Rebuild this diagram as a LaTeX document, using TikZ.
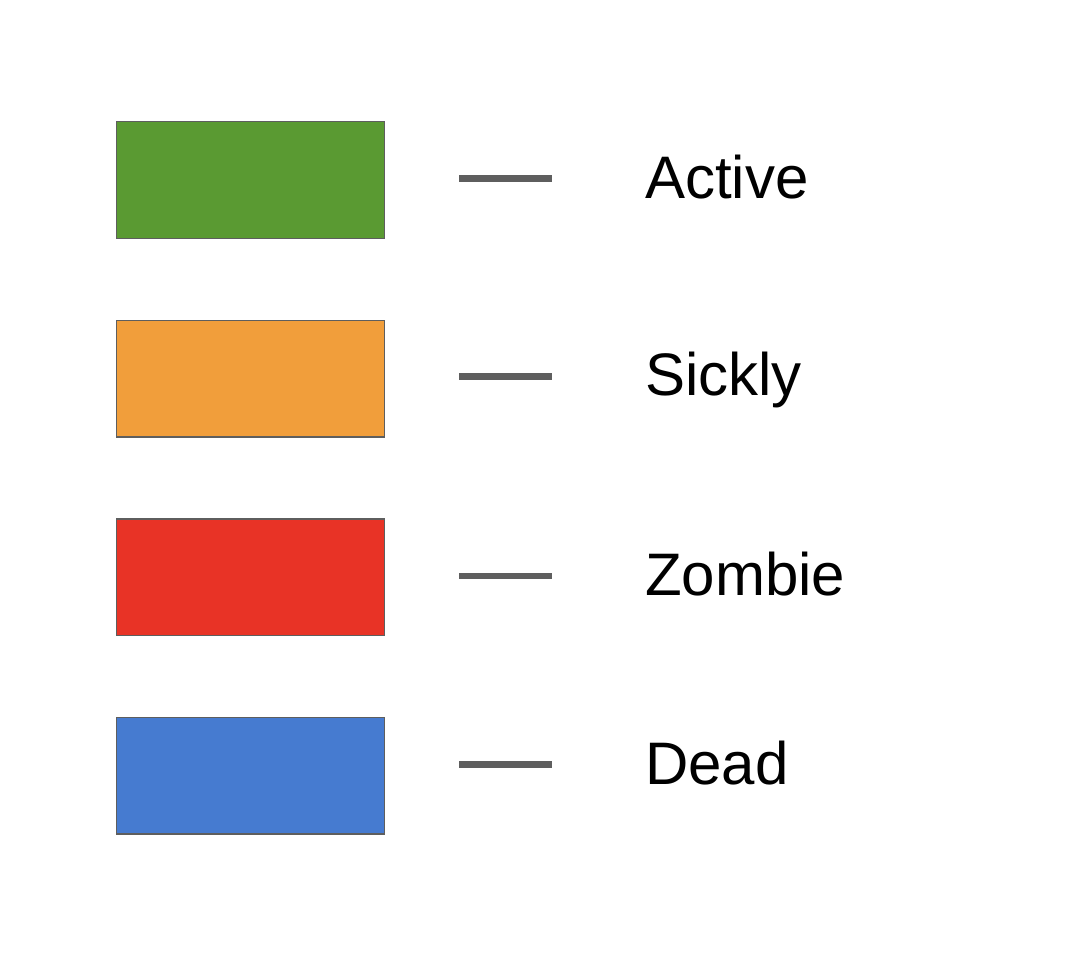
\documentclass[tikz,border=0pt]{standalone}
\usepackage{fontspec}
\setmainfont{Liberation Sans}
\definecolor{cgreen}{HTML}{5A9A32}
\definecolor{corange}{HTML}{F19E3B}
\definecolor{cred}{HTML}{E83326}
\definecolor{cblue}{HTML}{467BD0}
\definecolor{cgray}{HTML}{5E5E5E}
\begin{document}
\begin{tikzpicture}[x=1pt,y=-1pt,
  swatch/.style={draw=cgray,line width=1.5pt,minimum width=268pt,minimum height=116.5pt,inner sep=0pt,anchor=north west},
  dashline/.style={draw=cgray,line width=6.5pt},
  lbl/.style={font=\fontsize{60}{72}\selectfont,anchor=base west,inner sep=0pt}]
\useasboundingbox[fill=white] (0,0) rectangle (1076,960);
\node[swatch,fill=cgreen] (b1) at (115.5,121) {};
\node[swatch,fill=corange] (b2) at (115.5,319.5) {};
\node[swatch,fill=cred] (b3) at (115.5,518) {};
\node[swatch,fill=cblue] (b4) at (115.5,716.5) {};
\coordinate (d1a) at (459,178.5); \coordinate (d1b) at (552,178.5);
\coordinate (d2a) at (459,376.5); \coordinate (d2b) at (552,376.5);
\coordinate (d3a) at (459,576); \coordinate (d3b) at (552,576);
\coordinate (d4a) at (459,764.5); \coordinate (d4b) at (552,764.5);
\draw[dashline] (d1a) -- (d1b);
\draw[dashline] (d2a) -- (d2b);
\draw[dashline] (d3a) -- (d3b);
\draw[dashline] (d4a) -- (d4b);
\node[lbl] (t1) at (645,199) {Active};
\node[lbl] (t2) at (645,395) {Sickly};
\node[lbl] (t3) at (645,595) {Zombie};
\node[lbl] (t4) at (645,784) {Dead};
\end{tikzpicture}
\end{document}
